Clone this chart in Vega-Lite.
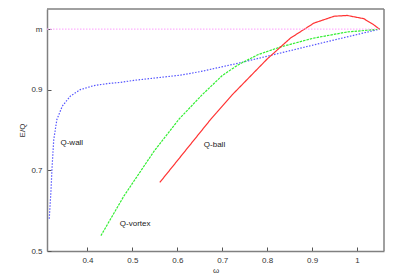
{
  "$schema": "https://vega.github.io/schema/vega-lite/v6.json",
  "width": 337,
  "height": 242,
  "autosize": "none",
  "padding": {"left": 47, "top": 9, "right": 12, "bottom": 26},
  "background": "white",
  "config": {
    "view": {"stroke": null},
    "font": "Liberation Sans",
    "axis": {"labelFont": "Liberation Sans", "titleFont": "Liberation Sans", "labelFontSize": 8, "labelColor": "#333333", "titleFontSize": 8, "titleFontWeight": "normal", "titleColor": "#333333", "grid": false, "domainColor": "#808080", "domainWidth": 1.5, "tickColor": "#555555", "tickSize": -4, "tickWidth": 1, "labelOverlap": false}
  },
  "datasets": {
    "curves": [
      {"s": "wall", "w": 0.315, "e": 0.58},
      {"s": "wall", "w": 0.319, "e": 0.652},
      {"s": "wall", "w": 0.321, "e": 0.702},
      {"s": "wall", "w": 0.325, "e": 0.776},
      {"s": "wall", "w": 0.332, "e": 0.826},
      {"s": "wall", "w": 0.344, "e": 0.859},
      {"s": "wall", "w": 0.362, "e": 0.884},
      {"s": "wall", "w": 0.384, "e": 0.9},
      {"s": "wall", "w": 0.414, "e": 0.91},
      {"s": "wall", "w": 0.444, "e": 0.915},
      {"s": "wall", "w": 0.473, "e": 0.918},
      {"s": "wall", "w": 0.503, "e": 0.923},
      {"s": "wall", "w": 0.607, "e": 0.936},
      {"s": "wall", "w": 0.652, "e": 0.945},
      {"s": "wall", "w": 0.741, "e": 0.967},
      {"s": "wall", "w": 0.83, "e": 0.991},
      {"s": "wall", "w": 0.941, "e": 1.021},
      {"s": "wall", "w": 1.05, "e": 1.05},
      {"s": "vortex", "w": 0.43, "e": 0.538},
      {"s": "vortex", "w": 0.481, "e": 0.636},
      {"s": "vortex", "w": 0.548, "e": 0.747},
      {"s": "vortex", "w": 0.603, "e": 0.826},
      {"s": "vortex", "w": 0.655, "e": 0.887},
      {"s": "vortex", "w": 0.7, "e": 0.935},
      {"s": "vortex", "w": 0.736, "e": 0.962},
      {"s": "vortex", "w": 0.78, "e": 0.987},
      {"s": "vortex", "w": 0.83, "e": 1.006},
      {"s": "vortex", "w": 0.904, "e": 1.028},
      {"s": "vortex", "w": 0.978, "e": 1.043},
      {"s": "vortex", "w": 1.05, "e": 1.05},
      {"s": "ball", "w": 0.561, "e": 0.67},
      {"s": "ball", "w": 0.674, "e": 0.826},
      {"s": "ball", "w": 0.722, "e": 0.887},
      {"s": "ball", "w": 0.8, "e": 0.976},
      {"s": "ball", "w": 0.852, "e": 1.028},
      {"s": "ball", "w": 0.904, "e": 1.065},
      {"s": "ball", "w": 0.949, "e": 1.082},
      {"s": "ball", "w": 0.978, "e": 1.084},
      {"s": "ball", "w": 1.015, "e": 1.076},
      {"s": "ball", "w": 1.037, "e": 1.061},
      {"s": "ball", "w": 1.05, "e": 1.05},
      {"s": "m", "w": 0.31, "e": 1.05},
      {"s": "m", "w": 1.05, "e": 1.05}
    ],
    "labels": [
      {"w": 0.34, "e": 0.769, "t": "Q-wall"},
      {"w": 0.472, "e": 0.568, "t": "Q-vortex"},
      {"w": 0.659, "e": 0.764, "t": "Q-ball"}
    ]
  },
  "layer": [
    {
      "data": {"name": "curves"},
      "mark": {"type": "line", "strokeWidth": 1.2, "clip": true},
      "encoding": {
        "x": {"field": "w", "type": "quantitative", "scale": {"domain": [0.31, 1.06], "nice": false, "zero": false},
          "axis": {"title": "ω", "values": [0.4, 0.5, 0.6, 0.7, 0.8, 0.9, 1.0], "labelPadding": 9, "titlePadding": 2, "labelExpr": "datum.value == 1 ? '1' : format(datum.value, '.1f')"}},
        "y": {"field": "e", "type": "quantitative", "scale": {"domain": [0.5, 1.1], "nice": false, "zero": false},
          "axis": {"title": "E/Q", "values": [0.5, 0.6, 0.7, 0.8, 0.9, 1.0, 1.05, 1.1], "labelPadding": 9, "titlePadding": 4, "labelExpr": "datum.value == 1.05 ? 'm' : datum.value == 1 ? '1' : format(datum.value, '.1f')"}},
        "detail": {"field": "s"},
        "color": {"field": "s", "type": "nominal", "legend": null, "scale": {"domain": ["wall", "vortex", "ball", "m"], "range": ["#5555ff", "#33ee33", "#ff3333", "#ffb0ff"]}},
        "strokeDash": {"field": "s", "type": "nominal", "legend": null, "scale": {"domain": ["wall", "vortex", "ball", "m"], "range": [[1.5, 1.5], [2.5, 1], [1, 0], [1.5, 1.5]]}},
        "order": {"field": "w", "type": "quantitative"}
      }
    },
    {
      "data": {"name": "labels"},
      "mark": {"type": "text", "align": "left", "baseline": "middle", "fontSize": 8, "color": "#222222", "font": "Liberation Sans"},
      "encoding": {
        "x": {"field": "w", "type": "quantitative"},
        "y": {"field": "e", "type": "quantitative"},
        "text": {"field": "t"}
      }
    },
    {
      "data": {"values": [{"k": "top"}]},
      "mark": {"type": "rule", "color": "#808080", "strokeWidth": 1.5},
      "encoding": {
        "y": {"datum": 1.1, "type": "quantitative"}
      }
    },
    {
      "data": {"values": [{"k": "right"}]},
      "mark": {"type": "rule", "color": "#808080", "strokeWidth": 1.5},
      "encoding": {
        "x": {"datum": 1.06, "type": "quantitative"}
      }
    }
  ]
}
